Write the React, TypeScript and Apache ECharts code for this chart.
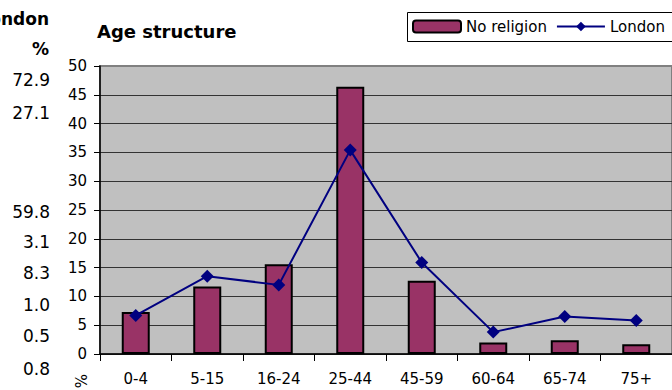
import React, { useEffect, useRef } from "react";
import * as echarts from "echarts";

const categories = ["0-4", "5-15", "16-24", "25-44", "45-59", "60-64", "65-74", "75+"];
const noReligion = [7.3, 11.7, 15.6, 46.4, 12.7, 2.0, 2.4, 1.7];
const london = [6.7, 13.5, 12.0, 35.4, 15.9, 3.8, 6.5, 5.8];
const yTicks = { min: 0, max: 50, interval: 5 };

// Fragment of the neighbouring table (London % column)
const tableHeader = ["London", "%"];
const tableValues = ["72.9", "27.1", "", "", "59.8", "3.1", "8.3", "1.0", "0.5", "0.8"];
const tableRowY = [80, 113, 146, 179, 212, 242, 273, 305, 336, 369];

const FONT = "DejaVu Sans";

export default function App() {
  const ref = useRef<HTMLDivElement>(null);
  useEffect(() => {
    if (!ref.current) return;
    const chart = echarts.init(ref.current, null, { renderer: "svg" });
    const tableTexts: any[] = [
      {
        type: "text",
        x: 49,
        y: 19,
        style: { text: tableHeader[0], font: `bold 17px '${FONT}'`, fill: "#000", align: "right", verticalAlign: "middle" },
      },
      {
        type: "text",
        x: 49,
        y: 49,
        style: { text: tableHeader[1], font: `bold 17px '${FONT}'`, fill: "#000", align: "right", verticalAlign: "middle" },
      },
      ...tableValues
        .map((v, i) => ({ v, i }))
        .filter((d) => d.v !== "")
        .map((d) => ({
          type: "text",
          x: 50,
          y: tableRowY[d.i],
          style: { text: d.v, font: `17px '${FONT}'`, fill: "#000", align: "right", verticalAlign: "middle" },
        })),
    ];
    chart.setOption({
      animation: false,
      backgroundColor: "#fff",
      textStyle: { fontFamily: FONT },
      title: {
        text: "Age structure",
        left: 92,
        top: 17,
        textStyle: { fontFamily: FONT, fontSize: 18, fontWeight: "bold", color: "#000" },
      },
      legend: {
        left: 412,
        top: 19,
        width: 300,
        padding: 0,
        itemWidth: 48,
        itemHeight: 12,
        itemGap: 9,
        textStyle: { fontFamily: FONT, fontSize: 15, color: "#000" },
        data: ["No religion", "London"],
      },
      graphic: [
        {
          type: "rect",
          shape: { x: 407.5, y: 12.5, width: 280, height: 29 },
          style: { fill: "#fff", stroke: "#000", lineWidth: 1 },
          z: -1,
          silent: true,
        },
        {
          type: "text",
          x: 80,
          y: 374,
          rotation: -Math.PI / 2,
          style: { text: "%", font: `15px '${FONT}'`, fill: "#000", align: "left", verticalAlign: "middle" },
        },
        ...tableTexts,
      ],
      grid: {
        left: 100,
        top: 66,
        bottom: 36,
        right: -10,
        show: true,
        backgroundColor: "#C0C0C0",
        borderColor: "#808080",
        borderWidth: 2,
      },
      xAxis: {
        type: "category",
        data: categories,
        axisLine: { lineStyle: { color: "#000", width: 1.5 } },
        axisTick: { show: true, length: 7, lineStyle: { color: "#000", width: 1 } },
        axisLabel: { fontFamily: FONT, fontSize: 15, color: "#000", margin: 17 },
      },
      yAxis: {
        type: "value",
        min: yTicks.min,
        max: yTicks.max,
        interval: yTicks.interval,
        axisLine: { show: true, lineStyle: { color: "#000", width: 1.5 } },
        axisTick: { show: true, length: 6, lineStyle: { color: "#000" } },
        axisLabel: { fontFamily: FONT, fontSize: 15, color: "#000", margin: 13 },
        splitLine: { show: true, showMaxLine: false, lineStyle: { color: "#333", width: 1 } },
      },
      series: [
        {
          name: "No religion",
          type: "bar",
          data: noReligion,
          barWidth: 28,
          itemStyle: { color: "#993366", borderColor: "#000", borderWidth: 2 },
        },
        {
          name: "London",
          type: "line",
          data: london,
          symbol: "diamond",
          symbolSize: 13,
          lineStyle: { color: "#000080", width: 2 },
          itemStyle: { color: "#000080" },
        },
      ],
    });
    return () => chart.dispose();
  }, []);
  return <div ref={ref} style={{ width: 672, height: 390, position: "absolute", left: 0, top: 0 }} />;
}
